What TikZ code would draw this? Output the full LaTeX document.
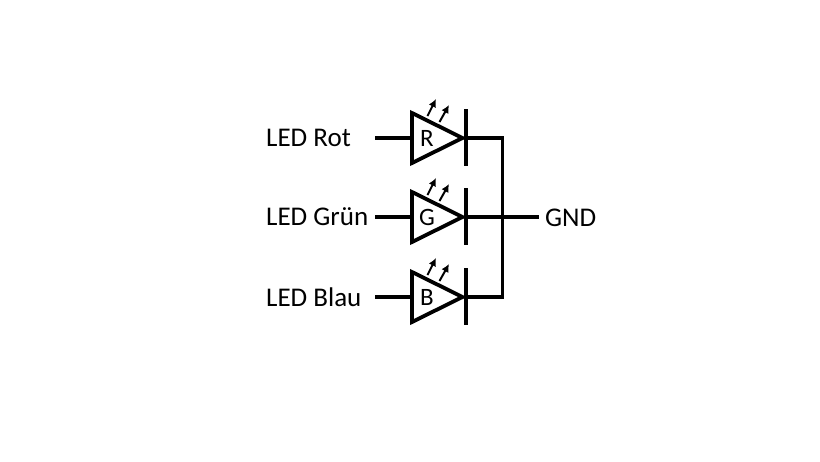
\documentclass[tikz,border=0pt]{standalone}
\usepackage{fontspec}
\usetikzlibrary{arrows.meta}
\setmainfont{Carlito}
\begin{document}
\begin{tikzpicture}[x=1pt,y=-1pt,
  wire/.style={line width=3.8pt},
  lbl/.style={font=\fontsize{27}{30}\selectfont,inner sep=0pt},
  let/.style={font=\fontsize{25}{30}\selectfont,inner sep=0pt,anchor=center},
  tri/.style={line width=3.8pt,line join=miter},
  ray/.style={line width=2pt,-{Latex[length=8pt,width=8pt]}}]
\useasboundingbox (0,0) rectangle (820,461);
\fill[white] (0,0) rectangle (820,461);
\foreach \n/\y/\t/\l in {r/138/LED Rot/R,g/217/LED Grün/G,b/297/LED Blau/B}{
  \node[lbl,anchor=west] (lab\n) at (266,\y) {\t};
  \coordinate (in\n) at (375,\y);
  \coordinate (tl\n) at (411.5,\y);
  \coordinate (tip\n) at (465,\y);
  \coordinate (top\n) at (412,\y-25);
  \coordinate (bot\n) at (412,\y+25);
  \draw[wire] (in\n) -- (tl\n);
  \draw[tri] (top\n) -- (462.5,\y) -- (bot\n) -- cycle;
  \draw[wire] (465.7,\y-29) -- (465.7,\y+28);
  \node[let] (let\n) at (427,\y+0.5) {\l};
  \draw[ray] (427.5,\y-22) -- (436,\y-39);
  \draw[ray] (439.5,\y-16) -- (449,\y-33);
}
\coordinate (jr) at (502.5,138);
\coordinate (jg) at (502.5,217);
\coordinate (jb) at (502.5,297);
\draw[wire,line join=miter] (tipr) -- (jr) -- (jb) -- (tipb);
\node[lbl,anchor=west] (gnd) at (545,218) {GND};
\coordinate (gndend) at (539,217);
\draw[wire] (tipg) -- (gndend);
\end{tikzpicture}
\end{document}
